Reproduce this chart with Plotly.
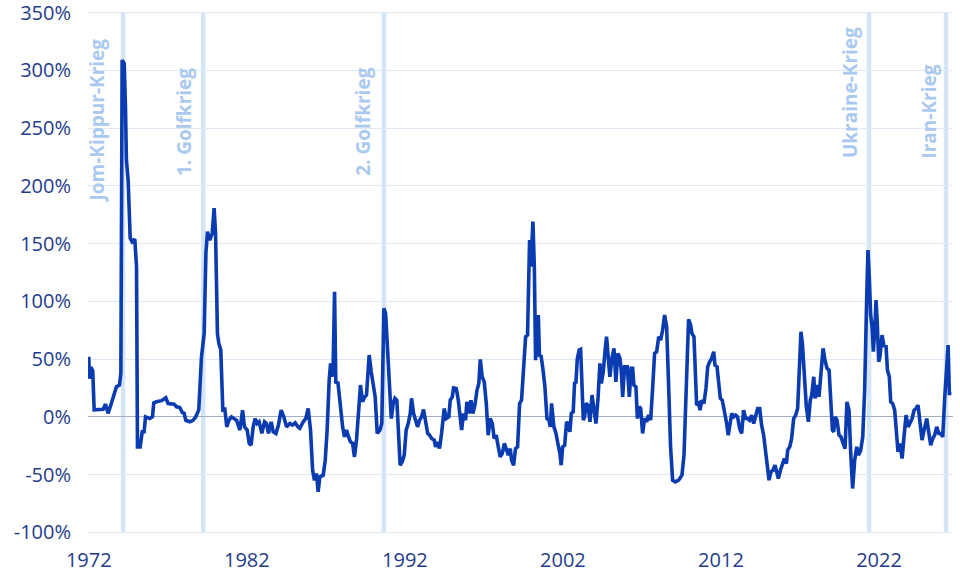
import plotly.graph_objects as go

# Veränderung des Ölpreises gegenüber Vorjahr (in %)
years = [
    1972.00, 1972.04, 1972.13, 1972.25, 1972.34, 1972.59, 1972.91, 1973.06, 1973.22, 1973.39,
    1973.60, 1973.75, 1973.94, 1974.03, 1974.11, 1974.24, 1974.32, 1974.38, 1974.49, 1974.62,
    1974.74, 1974.91, 1975.02, 1975.08, 1975.25, 1975.38, 1975.50, 1975.59, 1975.86, 1976.03,
    1976.11, 1976.28, 1976.60, 1976.87, 1977.02, 1977.40, 1977.55, 1977.76, 1977.91, 1978.03,
    1978.14, 1978.39, 1978.60, 1978.77, 1978.96, 1979.13, 1979.30, 1979.41, 1979.51, 1979.66,
    1979.81, 1979.93, 1980.02, 1980.14, 1980.23, 1980.35, 1980.48, 1980.61, 1980.73, 1980.86,
    1981.03, 1981.35,
    1981.56, 1981.73, 1981.85, 1982.02, 1982.15, 1982.27, 1982.40, 1982.53, 1982.65, 1982.78,
    1982.95, 1983.12, 1983.24, 1983.37, 1983.54, 1983.67, 1983.84, 1984.00, 1984.17, 1984.34,
    1984.51, 1984.72, 1984.89, 1985.06, 1985.23, 1985.35, 1985.57, 1985.73, 1985.88, 1986.03,
    1986.16, 1986.28, 1986.41, 1986.51, 1986.62, 1986.83, 1986.96, 1987.08, 1987.21, 1987.30,
    1987.38, 1987.46, 1987.55, 1987.63, 1987.76, 1987.89, 1988.06, 1988.18, 1988.31, 1988.43,
    1988.56, 1988.69, 1988.81, 1988.94, 1989.07, 1989.19, 1989.32, 1989.45, 1989.57, 1989.74,
    1989.87, 1990.00, 1990.12, 1990.25, 1990.42, 1990.54, 1990.67, 1990.78, 1990.88, 1991.01,
    1991.14, 1991.26,
    1991.37, 1991.49, 1991.62, 1991.70, 1991.83, 1991.96, 1992.08, 1992.21, 1992.34, 1992.42,
    1992.55, 1992.68, 1992.80, 1992.93, 1993.06, 1993.18, 1993.31, 1993.44, 1993.56, 1993.69,
    1993.86, 1993.94, 1994.07, 1994.19, 1994.32, 1994.49, 1994.62, 1994.78, 1994.87, 1995.00,
    1995.08, 1995.25, 1995.38, 1995.50, 1995.59, 1995.71, 1995.84, 1995.92, 1996.05, 1996.18,
    1996.30, 1996.43, 1996.56, 1996.68, 1996.77, 1996.89, 1997.02, 1997.15, 1997.27, 1997.40,
    1997.53, 1997.65, 1997.78, 1997.91, 1998.03, 1998.16, 1998.29, 1998.41, 1998.54, 1998.67,
    1998.75, 1998.88, 1999.00, 1999.13, 1999.26, 1999.38, 1999.51, 1999.64, 1999.76, 1999.89,
    1999.97, 2000.10, 2000.19, 2000.27, 2000.35, 2000.44, 2000.52, 2000.61, 2000.73, 2000.86,
    2000.99, 2001.11, 2001.20, 2001.28,
    2001.43, 2001.56, 2001.68, 2001.81, 2001.89, 2001.98, 2002.11, 2002.23, 2002.36, 2002.44,
    2002.53, 2002.65, 2002.74, 2002.82, 2002.91, 2003.03, 2003.12, 2003.20, 2003.29, 2003.37,
    2003.46, 2003.58, 2003.71, 2003.84, 2003.96, 2004.09, 2004.22, 2004.34, 2004.43, 2004.55,
    2004.68, 2004.76, 2004.89, 2004.97, 2005.10, 2005.23, 2005.35, 2005.48, 2005.61, 2005.69,
    2005.78, 2005.90, 2006.07, 2006.20, 2006.32, 2006.41, 2006.49, 2006.62, 2006.71, 2006.83,
    2006.92, 2007.04, 2007.17, 2007.30, 2007.42, 2007.55, 2007.68, 2007.80, 2007.93, 2008.06,
    2008.18, 2008.31, 2008.43, 2008.56, 2008.69, 2008.81, 2008.94, 2009.11, 2009.32, 2009.53,
    2009.66, 2009.78, 2009.87, 2009.95, 2010.08, 2010.16, 2010.29, 2010.38, 2010.46, 2010.59,
    2010.67, 2010.80, 2010.92, 2011.05,
    2011.16, 2011.28, 2011.41, 2011.54, 2011.62, 2011.75, 2011.87, 2011.96, 2012.08, 2012.21,
    2012.34, 2012.46, 2012.55, 2012.68, 2012.80, 2012.93, 2013.05, 2013.18, 2013.31, 2013.43,
    2013.56, 2013.69, 2013.81, 2013.94, 2014.07, 2014.19, 2014.32, 2014.45, 2014.57, 2014.70,
    2014.83, 2014.95, 2015.04, 2015.16, 2015.29, 2015.42, 2015.54, 2015.63, 2015.76, 2015.88,
    2016.01, 2016.14, 2016.22, 2016.35, 2016.47, 2016.60, 2016.73, 2016.85, 2016.98, 2017.06,
    2017.15, 2017.27, 2017.40, 2017.53, 2017.65, 2017.74, 2017.87, 2017.95, 2018.08, 2018.20,
    2018.33, 2018.46, 2018.58, 2018.71, 2018.84, 2018.96, 2019.05, 2019.13, 2019.22, 2019.34,
    2019.47, 2019.59, 2019.72, 2019.85, 2019.97, 2020.10, 2020.21, 2020.33,
    2020.46, 2020.59, 2020.71, 2020.84, 2020.97, 2021.09, 2021.22, 2021.30, 2021.39, 2021.47,
    2021.56, 2021.64, 2021.73, 2021.81, 2021.89, 2021.98, 2022.06, 2022.19, 2022.32, 2022.44,
    2022.53, 2022.65, 2022.74, 2022.86, 2022.99, 2023.12, 2023.20, 2023.33, 2023.46, 2023.58,
    2023.71, 2023.84, 2023.96, 2024.09, 2024.22, 2024.34, 2024.47, 2024.59, 2024.72, 2024.85,
    2025.02, 2025.14, 2025.27, 2025.40, 2025.52, 2025.65, 2025.78, 2025.90, 2026.03, 2026.16,
    2026.28, 2026.37, 2026.45, 2026.58,
]
change_pct = [
    52, 33, 43, 40, 6, 6, 6.5, 11, 3, 10,
    20, 26, 27.5, 37.6, 309, 306, 269, 222.6, 205, 154.7,
    151.7, 154, 130, -26, -26, -13, -13, 0, -1.5, 0,
    12, 13, 14, 16.5, 11.5, 11, 8.7, 8, 3.8, 3,
    -3, -4.3, -3, 0, 6, 52, 72, 141.7, 160.4, 153,
    159, 180.7, 159, 72, 63.6, 58, 6, 6.5, -8.7, -3,
    0, -3,
    -11.5, 5.8, -8.7, -11.5, -23, -24.5, -8.7, -1.5, -5.8, -4.3,
    -14.4, -4.3, -5.8, -14.4, -4.3, -13, -14.4, -7.2, 5.8, 0,
    -8.7, -5.8, -7.2, -5.2, -8.7, -10, -4.3, -1.5, 7.2, -11.5,
    -46, -55, -49, -65, -52, -50.6, -37.6, -11.5, 31.8, 46.3,
    34.7, 43.4, 108.4, 29, 30.3, 11.6, -8.7, -17.3, -11.5, -17.3,
    -21.7, -23, -34.7, -20, 2.9, 27.5, 13, 17.3, 18.8, 53.5,
    39, 26, 17.3, -14.4, -11.5, -5.8, 94, 89.6, 63.6, 27.5,
    -1.5, 11.6,
    16, 14.4, -31.8, -41.9, -39, -33.2, -11.5, -5.8, 2.9, 16,
    2.9, -2.9, -8.7, -2.9, 0, 6.4, -2.9, -14.4, -15.9, -18.8,
    -20.2, -26, -21.7, -27.5, -14.4, 7.2, -1.5, 0, 14.4, 17.3,
    25.1, 24.6, 14.4, -2.9, -11.5, 2.9, -2.9, 13, 2.9, 14.4,
    2.9, 10, 23, 28.9, 49.7, 34.7, 30.3, 11.6, -15.9, -1.5,
    -5.8, -18.8, -15.9, -26, -34.7, -31.8, -23.1, -27.5, -33.2, -27.5,
    -37.6, -41.9, -27.5, -26, 11.6, 14.4, 49.1, 69.4, 70.8, 153.2,
    130, 169.1, 130, 49.1, 72.3, 88.2, 52, 53.5, 41.9, 26,
    -1.5, -2.9, -8.7, 11.6,
    -8.7, -14.4, -23.1, -31.8, -41.9, -26, -24.6, -4.3, -7.2, -13,
    2.9, 4.3, 30.3, 28.9, 50.6, 57.8, 58.4, 23.1, -2.9, 0,
    11.6, 10.1, -4.3, 18.8, 7.2, -5.8, 16, 46.3, 28.9, 39,
    59.3, 69.4, 47.7, 34.7, 50.6, 59.3, 30.3, 54.9, 50.6, 40.5,
    17.3, 43.4, 43.4, 17.3, 42, 42, 27.5, 26, -1.5, 8.7,
    7.2, -14.4, -1.5, -4.3, 1.5, -2.9, 26, 54.9, 56.4, 69.4,
    66.5, 75.2, 88.2, 78.1, 26, -26, -54.9, -56.4, -54.9, -50.6,
    -33.2, 17.3, 66.5, 84.5, 79.5, 72.3, 69.4, 26, 10.1, 11.6,
    5.8, 14.4, 11.6, 24.6,
    43.4, 47.7, 50.6, 56.4, 44.8, 43.4, 30.3, 15.9, 14.4, 5.8,
    -4.3, -15.9, -7.2, 2.9, 0, 1.5, 0, -10.1, -14.4, 5.8,
    -1.5, -1.5, -2.9, 1.5, -5.8, 1.5, 7.2, 7.2, -7.2, -15.9,
    -28.9, -44.8, -54.9, -47.7, -46.3, -41.9, -47.7, -53.5, -46.3, -41.9,
    -36.1, -40.5, -28.9, -26, -18.8, -1.5, 1.5, 7.2, 49.1, 73.7,
    63.6, 31.8, 8.7, -4.3, 14.4, 18.8, 34.7, 15.9, 27.5, 17.3,
    40.5, 59.3, 49.1, 41.9, 40.5, 14.4, -11.6, -13, 0, -2.9,
    -15.9, -17.3, -23.1, -27.5, 13, 5.8, -31.8, -62.1,
    -37.6, -26, -33.2, -28.9, -17.3, 23.1, 104, 144.5, 118.5, 88.2,
    78, 56.4, 75.1, 101.2, 80.9, 47.7, 52, 70.8, 60.7, 62.1,
    40.5, 34.7, 13, 11.6, 5.8, -14.4, -30.3, -23.1, -36.1, -17.3,
    1.5, -8.7, -5.8, -1.5, 5.8, 7.2, 10.1, -4.3, -20.2, -11.6,
    -1.5, -13, -24.6, -18.8, -15.9, -8.7, -14.4, -14.4, -17.3, 17.3,
    46.3, 62.1, 20.2, 20.2,
]

# Ereignisse (Kriege)
event_names = ["Jom-Kippur-Krieg", "1. Golfkrieg", "2. Golfkrieg", "Ukraine-Krieg", "Iran-Krieg"]
event_years = [1974.17, 1979.24, 1990.67, 2021.37, 2026.24]

# Achsenbeschriftung
x_tick_years = [1972, 1982, 1992, 2002, 2012, 2022]
y_tick_values = [-100, -50, 0, 50, 100, 150, 200, 250, 300, 350]
y_tick_labels = ["-100%", "-50%", "0%", "50%", "100%", "150%", "200%", "250%", "300%", "350%"]

# Lage der gedrehten Beschriftungen: (unteres Ende in %, Versatz in px)
label_pos = [(184, -26), (207, -19), (207, -21), (222, -19), (222, -18)]

LINE_BLUE = "#0a3bb0"
TICK_BLUE = "#1f3c8c"
EVENT_LINE = "#d4e5fa"
EVENT_TEXT = "#a9c9f0"

fig = go.Figure()

fig.add_trace(go.Scatter(
    x=years, y=change_pct,
    mode="lines",
    line=dict(color=LINE_BLUE, width=3.6),
    hoverinfo="skip",
    showlegend=False,
))

for name, yr, (ybot, shift) in zip(event_names, event_years, label_pos):
    fig.add_shape(type="line", x0=yr, x1=yr, xref="x", y0=-100, y1=350, yref="y",
                  line=dict(color=EVENT_LINE, width=4.5), layer="below")
    fig.add_annotation(x=yr, y=ybot, xref="x", yref="y", text=name, showarrow=False,
                       textangle=-90, xanchor="center", yanchor="bottom", xshift=shift,
                       font=dict(family="Open Sans", size=19, color=EVENT_TEXT, weight="bold"))

fig.update_layout(
    width=960, height=575,
    margin=dict(l=88, r=7, t=11.3, b=41.3),
    paper_bgcolor="white",
    plot_bgcolor="white",
    font=dict(family="Open Sans", color=TICK_BLUE, size=20),
    xaxis=dict(
        range=[1971.95, 2026.68],
        tickvals=x_tick_years,
        ticktext=[str(y) for y in x_tick_years],
        showgrid=False, zeroline=False, showline=False, ticks="",
        ticklabelstandoff=12, automargin=False, ticklabeloverflow="allow",
        tickfont=dict(size=20, color=TICK_BLUE),
    ),
    yaxis=dict(
        range=[-101.5, 351.5],
        tickvals=y_tick_values,
        ticktext=y_tick_labels,
        showgrid=True, gridcolor="#dfe9f5", gridwidth=1,
        zeroline=True, zerolinecolor="#a3afc2", zerolinewidth=1.3,
        showline=False, ticks="",
        ticklabelstandoff=16, automargin=False, ticklabeloverflow="allow",
        tickfont=dict(size=20, color=TICK_BLUE),
    ),
)

# Seitenrand des Browsers entfernen, damit die Grafik genau im Fenster sitzt
fig.write_html(
    "out.html",
    config={"displayModeBar": False},
    post_script="document.body.style.margin='0';document.body.style.overflow='hidden';",
)
